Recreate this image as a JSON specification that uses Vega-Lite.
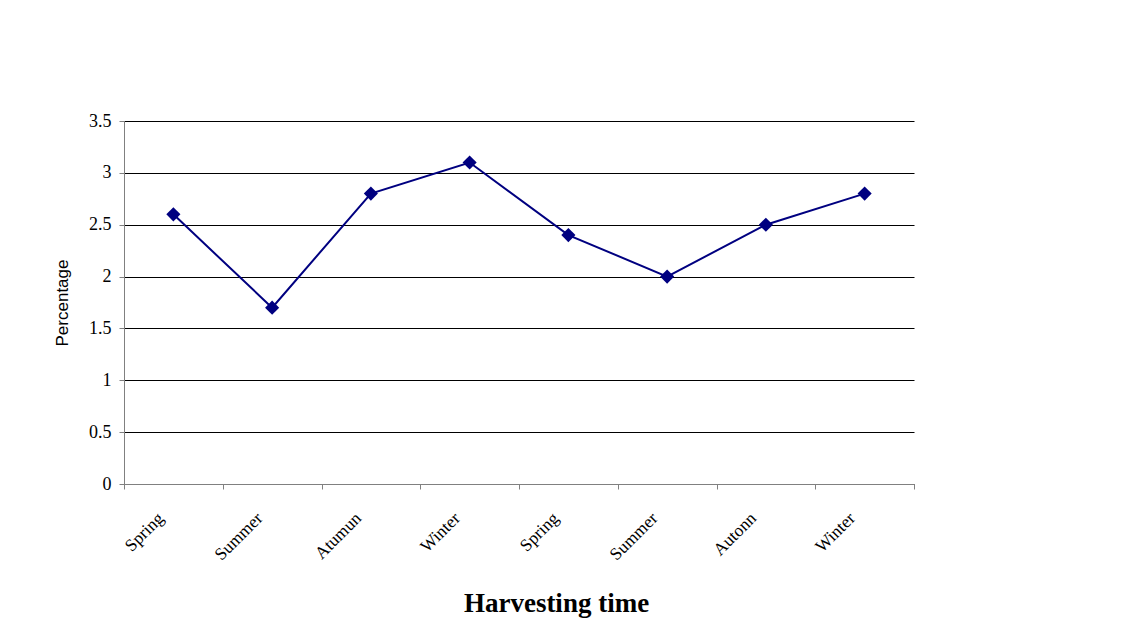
{
  "$schema": "https://vega.github.io/schema/vega-lite/v6.json",
  "width": 790,
  "height": 363,
  "autosize": {"type": "none"},
  "padding": {"left": 124, "top": 121, "right": 214, "bottom": 153},
  "background": "white",
  "config": {"view": {"stroke": null}},
  "data": {"values": [
    {"i": 0, "season": "Spring", "pct": 2.6},
    {"i": 1, "season": "Summer", "pct": 1.7},
    {"i": 2, "season": "Atumun", "pct": 2.8},
    {"i": 3, "season": "Winter", "pct": 3.1},
    {"i": 4, "season": "Spring", "pct": 2.4},
    {"i": 5, "season": "Summer", "pct": 2.0},
    {"i": 6, "season": "Autonn", "pct": 2.5},
    {"i": 7, "season": "Winter", "pct": 2.8}
  ]},
  "encoding": {
    "x": {
      "field": "i", "type": "ordinal",
      "scale": {"type": "band", "paddingInner": 0, "paddingOuter": 0},
      "axis": {
        "title": "Harvesting time",
        "labelExpr": "['Spring','Summer','Atumun','Winter','Spring','Summer','Autonn','Winter'][datum.value]",
        "labelAngle": -45, "labelAlign": "right", "labelBaseline": "top",
        "labelFont": "Liberation Serif", "labelFontSize": 17.5, "labelColor": "black",
        "labelPadding": 20, "labelOffset": -19,
        "tickBand": "extent", "tickColor": "#808080", "tickSize": 5,
        "domainColor": "#808080", "domainWidth": 1,
        "titleFont": "Liberation Serif", "titleFontSize": 27, "titleFontWeight": "bold",
        "titleColor": "black", "titleX": 432, "titleAlign": "center", "titleY": 127, "titleBaseline": "alphabetic"
      }
    },
    "y": {
      "field": "pct", "type": "quantitative",
      "scale": {"domain": [0, 3.5], "nice": false},
      "axis": {
        "title": "Percentage", "values": [0, 0.5, 1, 1.5, 2, 2.5, 3, 3.5], "format": "~g",
        "labelFont": "Liberation Serif", "labelFontSize": 18, "labelColor": "black",
        "labelPadding": 8, "tickColor": "#808080", "tickSize": 5,
        "domainColor": "#808080", "grid": true, "gridColor": "black", "gridWidth": 1,
        "titleFont": "Liberation Sans", "titleFontSize": 17, "titleFontWeight": "normal",
        "titleColor": "black", "titleX": -62, "titleBaseline": "middle"
      }
    }
  },
  "layer": [
    {"mark": {"type": "line", "color": "#000080", "strokeWidth": 2}},
    {"mark": {"type": "point", "shape": "diamond", "filled": true, "color": "#000080", "opacity": 1, "size": 200}}
  ]
}
